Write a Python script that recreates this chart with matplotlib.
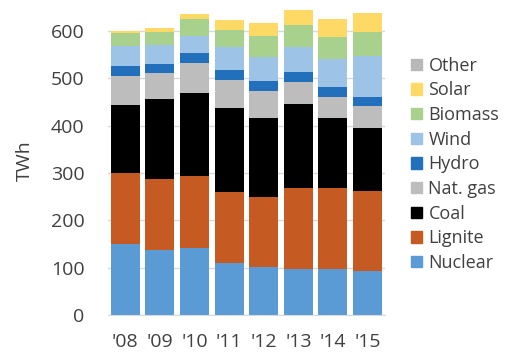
import numpy as np
import matplotlib.pyplot as plt
from matplotlib.patches import Patch

plt.rcParams['font.family'] = ['Open Sans', 'DejaVu Sans']

years = ["'08", "'09", "'10", "'11", "'12", "'13", "'14", "'15"]

# gross electricity generation by source, TWh
nuclear = [150, 137, 142, 109, 101, 98, 98, 93]
lignite = [149, 150, 151, 150, 149, 171, 171, 169]
coal = [144, 170, 175, 178, 167, 176, 147, 133]
nat_gas = [61, 53, 64, 59, 56, 47, 45, 46]
hydro = [21, 21, 21, 21, 21, 21, 21, 20]
wind = [43, 39, 37, 48, 51, 53, 58, 86]
biomass = [28, 28, 34, 37, 44, 46, 47, 51]
solar = [3, 7, 11, 20, 28, 31, 37, 40]
other = [0.5, 0.5, 0.5, 1.5, 0.5, 0.5, 0.5, 0.5]

sources = [
    ('Nuclear', nuclear, '#5B9BD5'),
    ('Lignite', lignite, '#C55A22'),
    ('Coal', coal, '#000000'),
    ('Nat. gas', nat_gas, '#BDBDBD'),
    ('Hydro', hydro, '#2270BC'),
    ('Wind', wind, '#9DC3E6'),
    ('Biomass', biomass, '#A9D18E'),
    ('Solar', solar, '#FFD966'),
    ('Other', other, '#B8B8B8'),
]

fig = plt.figure(figsize=(5.07, 3.58), dpi=100)
ax = fig.add_axes([0.213, 0.120, 0.546, 0.860])

x = np.arange(len(years))
bottom = np.zeros(len(years))
for name, vals, color in sources:
    ax.bar(x, vals, bottom=bottom, width=0.84, color=color, zorder=2)
    bottom += np.array(vals)

ax.set_xlim(-0.5, len(years) - 0.5)
ax.set_ylim(0, 650)
ax.set_yticks(range(0, 700, 100))
ax.set_xticks(x)
ax.set_xticklabels(years)
ax.yaxis.grid(True, color='#D9D9D9', linewidth=1, zorder=0)
for s in ['top', 'right', 'left']:
    ax.spines[s].set_visible(False)
ax.spines['bottom'].set_color('#D9D9D9')
ax.tick_params(axis='both', length=0, labelsize=14, colors='#404040')
ax.tick_params(axis='y', pad=17)
ax.tick_params(axis='x', pad=13)
ax.set_ylabel('TWh', fontsize=14, color='#404040', labelpad=12)

handles = [Patch(color=c, label=n) for n, _, c in reversed(sources)]
fig.legend(handles=handles, loc='upper left', bbox_to_anchor=(0.797, 0.862),
           frameon=False, fontsize=13, handlelength=0.6, handleheight=0.6,
           handletextpad=0.35, labelspacing=0.37, borderaxespad=0,
           labelcolor='#404040')

fig.savefig('out.png', dpi=100)
